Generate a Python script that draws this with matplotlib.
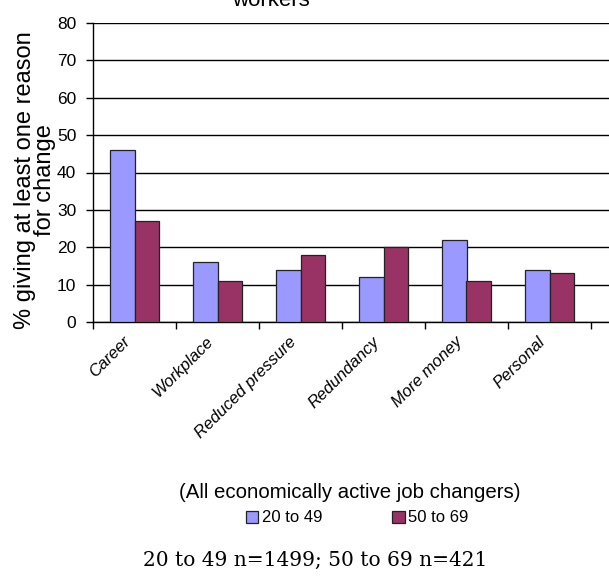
import matplotlib.pyplot as plt
import matplotlib.transforms as mtransforms
import numpy as np

plt.rcParams["font.family"] = ["Liberation Sans", "DejaVu Sans"]

categories = ["Career", "Workplace", "Reduced pressure", "Redundancy", "More money", "Personal"]
younger = [46, 16, 14, 12, 22, 14]
older = [27, 11, 18, 20, 11, 13]
series_labels = ["20 to 49", "50 to 69"]
y_ticks = [0, 10, 20, 30, 40, 50, 60, 70, 80]

W, H = 609, 579
fig = plt.figure(figsize=(W / 100, H / 100), dpi=100)
# plot area: left spine at x=93px, y=0 at 322px, y=80 at 23px; right side runs off the image
ax = fig.add_axes([93 / W, 1 - 322 / H, 1 - 93 / W, (322 - 23) / H])

x = np.arange(len(categories))
bw = 0.29
ax.bar(x - bw / 2, younger, bw, color="#9999FF", edgecolor="#222222", linewidth=0.9,
       label=series_labels[0], zorder=3)
ax.bar(x + bw / 2, older, bw, color="#993366", edgecolor="#222222", linewidth=0.9,
       label=series_labels[1], zorder=3)

ax.set_xlim(-0.5, -0.5 + (W - 93) / 83)
ax.set_ylim(0, 80)
ax.set_yticks(y_ticks)
ax.yaxis.grid(True, color="black", linewidth=1.0, zorder=0)
ax.set_axisbelow(True)
for side in ["top", "right"]:
    ax.spines[side].set_visible(False)
ax.spines["left"].set_linewidth(1.0)
ax.spines["bottom"].set_linewidth(1.0)
ax.tick_params(axis="y", direction="out", length=5, width=1, labelsize=12.5, pad=7)

ax.set_xticks(x)
ax.set_xticklabels(categories, rotation=45, ha="right", va="top",
                   rotation_mode="anchor", fontsize=12, style="italic")
ax.tick_params(axis="x", which="major", length=0, pad=10)
shift = mtransforms.ScaledTranslation(-12 / 100, 2 / 100, fig.dpi_scale_trans)
for lbl in ax.get_xticklabels():
    lbl.set_transform(lbl.get_transform() + shift)
ax.set_xticks(np.arange(len(categories) + 1) - 0.5, minor=True)
ax.tick_params(axis="x", which="minor", direction="out", length=5, width=1)

ax.set_ylabel("% giving at least one reason\nfor change", fontsize=17, linespacing=0.85)
ax.yaxis.set_label_coords(-0.072, 0.475)

fig.text(271 / W, 1 - 6 / H, "workers", ha="center", va="baseline", fontsize=16)
fig.text(350 / W, 1 - 492 / H, "(All economically active job changers)",
         ha="center", va="center", fontsize=14.7)

handles, labels = ax.get_legend_handles_labels()
fig.legend(handles, labels, loc="center", bbox_to_anchor=(357 / W, 1 - 518 / H),
           ncol=2, frameon=False, fontsize=12, handlelength=0.75, handleheight=0.75,
           handletextpad=0.2, columnspacing=4.2)

fig.text(315 / W, 1 - 560 / H, "20 to 49 n=1499; 50 to 69 n=421",
         ha="center", va="center", fontsize=14.5, family=["DejaVu Serif", "Liberation Serif"])

fig.savefig("out.png", dpi=100)
